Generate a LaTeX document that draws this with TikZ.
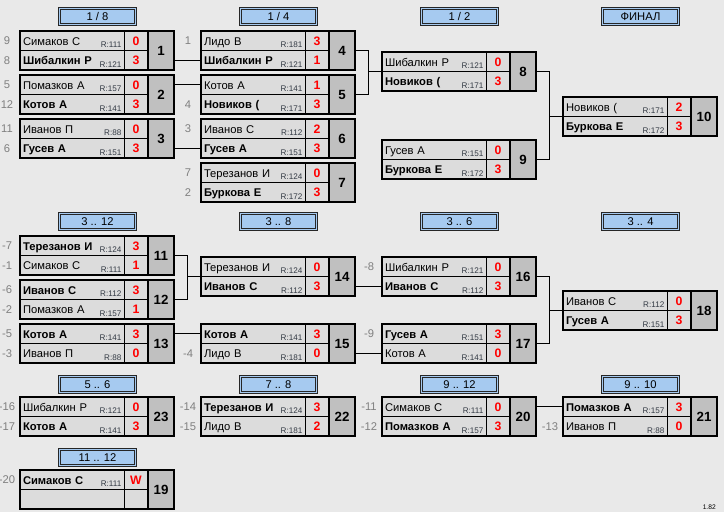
\documentclass[tikz,border=0pt]{standalone}
\usepackage{fontspec}
\setmainfont{Liberation Sans}

\definecolor{fon}{HTML}{E9E9E9}
\definecolor{yach}{HTML}{DCDCDC}
\definecolor{nomer}{HTML}{C0C0C0}
\definecolor{shapka}{HTML}{A6CAF0}
\definecolor{posev}{HTML}{808080}
\definecolor{reit}{HTML}{333A44}

% игра: номер, x, y, игрок 1, рейтинг 1, счёт 1, игрок 2, рейтинг 2, счёт 2
\newcommand{\igra}[9]{%
  \node[namecell, anchor=north west] (m#1a) at (#2,#3) {#4};
  \node[namecell, anchor=north west] (m#1b) at (m#1a.south west) {#7};
  \node[ratelbl, anchor=south east] (m#1ra) at (m#1a.south east) {#5};
  \node[ratelbl, anchor=south east] (m#1rb) at (m#1b.south east) {#8};
  \node[scorecell, anchor=north west] (m#1sa) at (m#1a.north east) {#6};
  \node[scorecell, anchor=north west] (m#1sb) at (m#1b.north east) {#9};
  \node[numcell, anchor=north west] (m#1n) at (m#1sa.north east) {#1};
  \node[mbox, anchor=north west] (m#1) at (#2,#3) {};
}

\begin{document}
\begin{tikzpicture}[x=0.75pt, y=-0.75pt] % сетка турнира, 1 ед. = 1 пиксель
\tikzstyle{namecell} = [draw, fill=yach, line width=0.75pt, outer sep=0pt, minimum width=78pt, minimum height=14.625pt, inner xsep=2.25pt, inner ysep=0pt, text width=73.5pt, align=left, text height=7.5pt, text depth=0.5pt, font=\fontsize{8.4}{9}\selectfont] % ячейка с фамилией
\tikzstyle{ratelbl} = [inner xsep=2pt, inner ysep=2.1pt, outer sep=0pt, text depth=0pt, text=reit, font=\fontsize{6.1}{7}\selectfont] % рейтинг R:
\tikzstyle{scorecell} = [draw, fill=yach, line width=0.75pt, outer sep=0pt, minimum width=18pt, minimum height=14.625pt, inner sep=0pt, text height=7.5pt, text depth=0.5pt, text=red, font=\bfseries\fontsize{9.2}{10}\selectfont] % счёт
\tikzstyle{numcell} = [draw, fill=nomer, line width=1.5pt, outer sep=0pt, minimum width=19.5pt, minimum height=29.25pt, inner sep=0pt, font=\bfseries\fontsize{10}{11}\selectfont] % номер игры
\tikzstyle{mbox} = [draw, line width=1.5pt, outer sep=0pt, minimum width=115.5pt, minimum height=29.25pt, inner sep=0pt] % рамка игры
\tikzstyle{hdr} = [draw=black!85, double=shapka, double distance=0.75pt, line width=0.75pt, fill=shapka, minimum width=57pt, minimum height=12pt, inner sep=0pt, font=\fontsize{8.4}{9}\selectfont] % заголовок круга
\tikzstyle{seed} = [inner sep=0pt, text=posev, font=\fontsize{8.4}{9}\selectfont] % номер посева
\tikzstyle{link} = [line width=0.75pt] % соединительная линия

\fill[fon] (0,0) rectangle (724,512);
\useasboundingbox (0,0) rectangle (724,512);

% заголовки
\node[hdr] (h18) at (97.5,16.5) {1 / 8};
\node[hdr] (h14) at (278.5,16.5) {1 / 4};
\node[hdr] (h12) at (459.5,16.5) {1 / 2};
\node[hdr] (hfin) at (640.5,16.5) {ФИНАЛ};
\node[hdr] (h312) at (97.5,221.5) {3 .. 12};
\node[hdr] (h38) at (278.5,221.5) {3 .. 8};
\node[hdr] (h36) at (459.5,221.5) {3 .. 6};
\node[hdr] (h34) at (640.5,221.5) {3 .. 4};
\node[hdr] (h56) at (97.5,384.5) {5 .. 6};
\node[hdr] (h78) at (278.5,384.5) {7 .. 8};
\node[hdr] (h912) at (459.5,384.5) {9 .. 12};
\node[hdr] (h910) at (640.5,384.5) {9 .. 10};
\node[hdr] (h1112) at (97.5,457.5) {11 .. 12};

% основная сетка
\igra{1}{20}{31}{Симаков С}{R:111}{0}{\textbf{Шибалкин Р}}{R:121}{3}
\igra{2}{20}{75}{Помазков А}{R:157}{0}{\textbf{Котов А}}{R:141}{3}
\igra{3}{20}{119}{Иванов П}{R:88}{0}{\textbf{Гусев А}}{R:151}{3}
\igra{4}{201}{31}{Лидо В}{R:181}{3}{\textbf{Шибалкин Р}}{R:121}{1}
\igra{5}{201}{75}{Котов А}{R:141}{1}{\textbf{Новиков (}}{R:171}{3}
\igra{6}{201}{119}{Иванов С}{R:112}{2}{\textbf{Гусев А}}{R:151}{3}
\igra{7}{201}{163}{Терезанов И}{R:124}{0}{\textbf{Буркова Е}}{R:172}{3}
\igra{8}{382}{52}{Шибалкин Р}{R:121}{0}{\textbf{Новиков (}}{R:171}{3}
\igra{9}{382}{140}{Гусев А}{R:151}{0}{\textbf{Буркова Е}}{R:172}{3}
\igra{10}{563}{97}{Новиков (}{R:171}{2}{\textbf{Буркова Е}}{R:172}{3}

% утешительная сетка
\igra{11}{20}{236}{\textbf{Терезанов И}}{R:124}{3}{Симаков С}{R:111}{1}
\igra{12}{20}{280}{\textbf{Иванов С}}{R:112}{3}{Помазков А}{R:157}{1}
\igra{13}{20}{324}{\textbf{Котов А}}{R:141}{3}{Иванов П}{R:88}{0}
\igra{14}{201}{257}{Терезанов И}{R:124}{0}{\textbf{Иванов С}}{R:112}{3}
\igra{15}{201}{324}{\textbf{Котов А}}{R:141}{3}{Лидо В}{R:181}{0}
\igra{16}{382}{257}{Шибалкин Р}{R:121}{0}{\textbf{Иванов С}}{R:112}{3}
\igra{17}{382}{324}{\textbf{Гусев А}}{R:151}{3}{Котов А}{R:141}{0}
\igra{18}{563}{291}{Иванов С}{R:112}{0}{\textbf{Гусев А}}{R:151}{3}

% места 5--12
\igra{23}{20}{397}{Шибалкин Р}{R:121}{0}{\textbf{Котов А}}{R:141}{3}
\igra{22}{201}{397}{\textbf{Терезанов И}}{R:124}{3}{Лидо В}{R:181}{2}
\igra{20}{382}{397}{Симаков С}{R:111}{0}{\textbf{Помазков А}}{R:157}{3}
\igra{21}{563}{397}{\textbf{Помазков А}}{R:157}{3}{Иванов П}{R:88}{0}
\igra{19}{20}{470}{\textbf{Симаков С}}{R:111}{W}{}{}{}

% посев слева от игр
\foreach \nd/\txt in {m1a/9, m1b/8, m2a/5, m2b/12, m3a/11, m3b/6, m4a/1, m5b/4, m6a/3, m7a/7, m7b/2,
    m11a/-7, m11b/-1, m12a/-6, m12b/-2, m13a/-5, m13b/-3, m15b/-4, m16a/-8, m17a/-9,
    m23a/-16, m23b/-17, m22a/-14, m22b/-15, m19a/-20, m20a/-11, m20b/-12, m21b/-13}
  \node[seed] (s-\nd) at ([xshift=-9.75pt]\nd.west) {\txt};

% линии
\draw[link] (m1.east |- m4b.west) -- (m4b.west);
\draw[link] (m2.east |- m5a.west) -- (m5a.west);
\draw[link] (m3.east |- m6b.west) -- (m6b.west);
\draw[link] (m4.east) -- ++(13.5,0) |- (m5.east);
\draw[link] (m8.west) -- ++(-13.5,0);
\draw[link] (m8.east) -- ++(13.5,0) |- (m9.east);
\draw[link] (m10.west) -- ++(-13.5,0);
\draw[link] (m11.east) -- ++(13.5,0) |- (m12.east);
\draw[link] (m14.west) -- ++(-13.5,0);
\draw[link] (m13.east |- m15a.west) -- (m15a.west);
\draw[link] (m14.east |- m16b.west) -- (m16b.west);
\draw[link] (m15.east |- m17b.west) -- (m17b.west);
\draw[link] (m16.east) -- ++(13.5,0) |- (m17.east);
\draw[link] (m18.west) -- ++(-13.5,0);
\draw[link] (m20.east |- m21a.west) -- (m21a.west);

\node[inner sep=0pt, anchor=south east, font=\fontsize{5}{6}\selectfont] (ver) at (716,509.5) {1.82};
\end{tikzpicture}
\end{document}
